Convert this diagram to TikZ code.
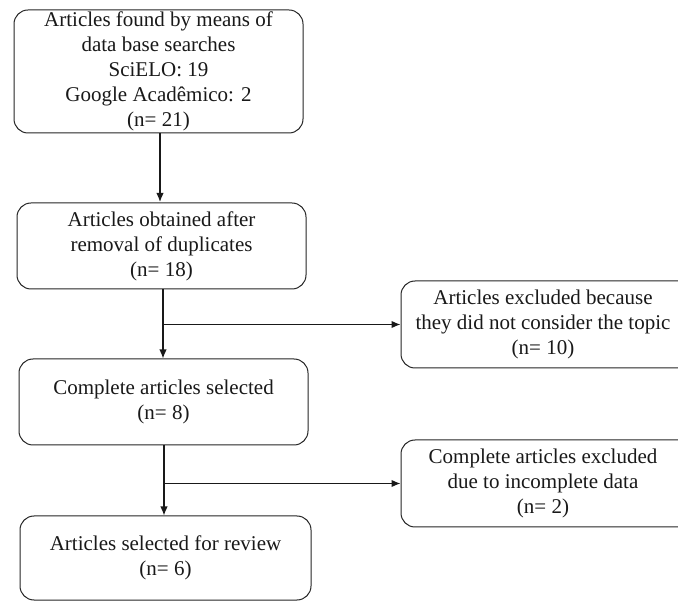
\documentclass[tikz,border=0pt]{standalone}
\usepackage{fontspec}
\setmainfont{Liberation Serif}
\usetikzlibrary{arrows.meta,positioning}

\begin{document}
\begin{tikzpicture}[x=1pt, y=-1pt, thick]

		\tikzstyle{stage}=[rectangle, rounded corners=14pt, draw=black!85, line width=1pt, fill=white, text=black!90, align=center, minimum width=289pt, minimum height=86pt, inner sep=0pt, font=\fontsize{21}{25}\selectfont]
		\tikzstyle{excl}=[stage, minimum width=300pt, minimum height=87pt]
		\tikzstyle{flow}=[-{Latex[length=9pt,width=7.5pt]}, line width=1.3pt, black!90]

		\useasboundingbox (0,0) rectangle (678,601);

		\node[stage, minimum height=123pt] (found) at (158.5,71.5) {Articles found by means of\\ data base searches\\ SciELO: 19\\ Google Acadêmico: 2\\ (n= 21)};
		\node[stage] (dup)    at (161.5,246) {Articles obtained after\\ removal of duplicates\\ (n= 18)};
		\node[stage] (sel)    at (163.5,402) {Complete articles selected\\ (n= 8)};
		\node[stage, minimum width=291pt, minimum height=84pt] (review) at (165.5,558) {Articles selected for review\\ (n= 6)};

		% right-hand boxes run off the page, text kept left of centre
		\node[excl] (topic)   at (551,324.5) {\begin{tabular}{@{}c@{}}Articles excluded because\\ they did not consider the topic\\ (n= 10)\end{tabular}\kern16pt};
		\node[excl] (incompl) at (551,483.5) {\begin{tabular}{@{}c@{}}Complete articles excluded\\ due to incomplete data\\ (n= 2)\end{tabular}\kern16pt};

		% branch points
		\coordinate (b1) at (163,324.5);
		\coordinate (b2) at (164,483.5);

		\draw[flow] (found.south -| 160,0) -- (160,202);
		\draw[flow] (dup.south -| b1) -- (b1 |- sel.north);
		\draw[flow] (b1) -- (topic.west);
		\draw[flow] (sel.south -| b2) -- (b2 |- review.north);
		\draw[flow] (b2) -- (incompl.west);

\end{tikzpicture}
\end{document}
